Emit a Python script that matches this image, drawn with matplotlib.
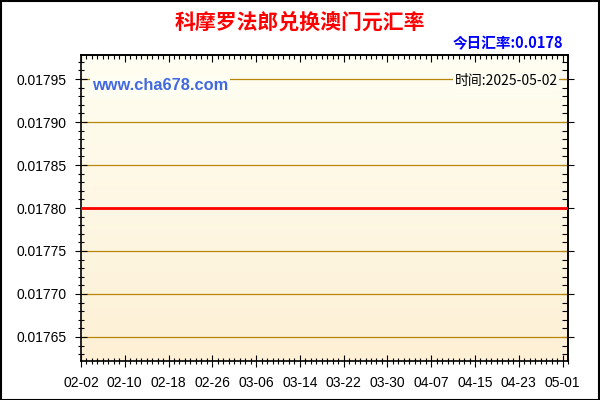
import matplotlib
matplotlib.use("Agg")
import matplotlib.pyplot as plt
import matplotlib.dates as mdates
from matplotlib.ticker import MultipleLocator, FixedLocator, NullFormatter
import numpy as np
import pandas as pd

title = "科摩罗法郎兑换澳门元汇率"
today_label = "今日汇率:0.0178"
time_label = "时间:2025-05-02"
site_label = "www.cha678.com"
start_date = "2025-02-02"
end_date = "2025-05-02"
rates = [
    0.0178, 0.0178, 0.0178, 0.0178, 0.0178, 0.0178, 0.0178, 0.0178, 0.0178, 0.0178,
    0.0178, 0.0178, 0.0178, 0.0178, 0.0178, 0.0178, 0.0178, 0.0178, 0.0178, 0.0178,
    0.0178, 0.0178, 0.0178, 0.0178, 0.0178, 0.0178, 0.0178, 0.0178, 0.0178, 0.0178,
    0.0178, 0.0178, 0.0178, 0.0178, 0.0178, 0.0178, 0.0178, 0.0178, 0.0178, 0.0178,
    0.0178, 0.0178, 0.0178, 0.0178, 0.0178, 0.0178, 0.0178, 0.0178, 0.0178, 0.0178,
    0.0178, 0.0178, 0.0178, 0.0178, 0.0178, 0.0178, 0.0178, 0.0178, 0.0178, 0.0178,
    0.0178, 0.0178, 0.0178, 0.0178, 0.0178, 0.0178, 0.0178, 0.0178, 0.0178, 0.0178,
    0.0178, 0.0178, 0.0178, 0.0178, 0.0178, 0.0178, 0.0178, 0.0178, 0.0178, 0.0178,
    0.0178, 0.0178, 0.0178, 0.0178, 0.0178, 0.0178, 0.0178, 0.0178, 0.0178, 0.0178,
]
dates = pd.date_range(start_date, end_date, freq="D")
y_ticks = [0.01765, 0.01770, 0.01775, 0.01780, 0.01785, 0.01790, 0.01795]
y_min, y_max = 0.017622, 0.017978

plt.rcParams['font.family'] = ['Liberation Sans', 'Noto Sans CJK SC', 'DejaVu Sans']

fig = plt.figure(figsize=(6, 4), dpi=100)
fig.patch.set_facecolor("white")
ax = fig.add_axes([81/600, 1-361/400, (568-81)/600, (361-55)/400])

x = mdates.date2num(dates.to_pydatetime())
ax.set_xlim(x[0], x[-1])
ax.set_ylim(y_min, y_max)

# gradient background
grad = np.linspace(0, 1, 256).reshape(-1, 1)
top = np.array([255, 254, 242]) / 255
bot = np.array([253, 240, 213]) / 255
img = top[None, None, :] * (1 - grad[:, :, None]) + bot[None, None, :] * grad[:, :, None]
ax.imshow(img, extent=[x[0], x[-1], y_min, y_max], aspect='auto', origin='upper', zorder=0)

for yt in y_ticks:
    ax.axhline(yt, color="#B8860B", lw=0.9, zorder=1)

ax.plot(x, rates, color="#FF0000", lw=2.0, zorder=3)

major = mdates.date2num(pd.date_range(start_date, end_date, freq="8D").to_pydatetime())
ax.xaxis.set_major_locator(FixedLocator(major))
ax.xaxis.set_minor_locator(FixedLocator(x))
ax.xaxis.set_major_formatter(mdates.DateFormatter("%m-%d"))
ax.yaxis.set_major_locator(FixedLocator(y_ticks))
ax.yaxis.set_minor_locator(MultipleLocator(0.00001))
ax.yaxis.set_major_formatter(matplotlib.ticker.FormatStrFormatter("%.5f"))

ax.tick_params(axis='both', which='major', direction='inout', length=9, width=0.8,
               labelsize=10, colors='black')
ax.tick_params(axis='both', which='minor', direction='inout', length=5, width=0.8)
ax.tick_params(axis='x', which='major', pad=6)
ax.tick_params(axis='y', which='major', pad=6)
for s in ax.spines.values():
    s.set_color("black")
    s.set_linewidth(1.2)

# top and right: inward ticks only
secx = ax.secondary_xaxis('top')
secx.xaxis.set_major_locator(FixedLocator(major))
secx.xaxis.set_minor_locator(FixedLocator(x))
secx.xaxis.set_major_formatter(NullFormatter())
secx.tick_params(which='major', direction='in', length=5, width=0.8)
secx.tick_params(which='minor', direction='in', length=3, width=0.8)
secy = ax.secondary_yaxis('right')
secy.yaxis.set_major_locator(FixedLocator(y_ticks))
secy.yaxis.set_minor_locator(MultipleLocator(0.00001))
secy.yaxis.set_major_formatter(NullFormatter())
secy.tick_params(which='major', direction='inout', length=8, width=0.8)
secy.tick_params(which='minor', direction='in', length=4, width=0.8)
for sec in (secx, secy):
    for s in sec.spines.values():
        s.set_linewidth(1.2)

fig.text(0.5, 1-22/400, title, ha='center', va='center', color='#FF0000',
         fontsize=15, fontweight='bold', family=['Noto Sans CJK SC', 'DejaVu Sans'])
fig.text(563/600, 1-43/400, today_label, ha='right', va='center', color='#0000FF',
         fontsize=10.5, fontweight='bold', family=['Noto Sans CJK SC', 'DejaVu Sans'])
fig.text(92/600, 1-85/400, site_label, ha='left', va='center', color='#4169E1',
         fontsize=11.8, fontweight='bold', family=['Liberation Sans'],
         bbox=dict(facecolor='#FFFEF2', edgecolor='none', pad=1.5), zorder=5)
fig.text(558/600, 1-81/400, time_label, ha='right', va='center', color='black',
         fontsize=10, family=['Noto Sans CJK SC', 'DejaVu Sans'],
         bbox=dict(facecolor='#FFFEF2', edgecolor='none', pad=1.0), zorder=5)

fig.add_artist(plt.Rectangle((0.001, 0.001), 0.997, 0.997, transform=fig.transFigure,
                             fill=False, edgecolor='black', lw=1.5))

fig.savefig("out.png", dpi=100)
